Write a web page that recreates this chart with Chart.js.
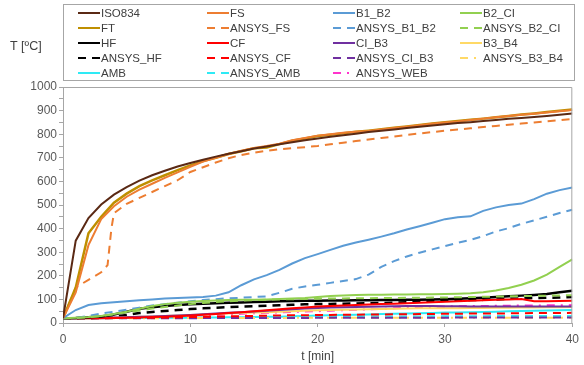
<!DOCTYPE html>
<html>
<head>
<meta charset="utf-8">
<script src="https://cdn.jsdelivr.net/npm/chart.js@4/dist/chart.umd.min.js"></script>
<style>
html, body { margin: 0; padding: 0; background: #fff; }
#wrap { width: 584px; height: 365px; }
</style>
</head>
<body>
<div id="wrap"><canvas id="tempChart" width="584" height="365"></canvas></div>
<script>
// Temps (min)
const minutes = [0, 1, 2, 3, 4, 5, 6, 7, 8, 9, 10, 11, 12, 13, 14, 15, 16, 17, 18, 19, 20,
    21, 22, 23, 24, 25, 26, 27, 28, 29, 30, 31, 32, 33, 34, 35, 36, 37, 38, 39, 40];
const ansysFsMinutes = [0, 1, 2, 3, 3.5, 3.8, 4, 5, 6, 7, 8, 9, 10, 11, 12, 13, 14, 15, 16, 17, 18, 19, 20,
    21, 22, 23, 24, 25, 26, 27, 28, 29, 30, 31, 32, 33, 34, 35, 36, 37, 38, 39, 40];

// Températures (ºC)
const iso834 = [20, 349, 445, 502, 544, 576, 603, 626, 645, 663, 678, 692, 705, 717, 728, 739, 748, 757, 766, 774, 782,
    789, 796, 802, 809, 815, 820, 826, 832, 837, 842, 847, 851, 856, 860, 865, 869, 873, 877, 882, 888];
const fs = [20, 130, 330, 440, 495, 535, 565, 590, 615, 638, 662, 684, 700, 716, 730, 742, 750, 760, 774, 784, 794,
    800, 806, 810, 814, 820, 826, 832, 838, 844, 850, 854, 860, 866, 872, 877, 882, 887, 892, 897, 902];
const b1b2 = [20, 55, 76, 84, 88, 92, 96, 100, 104, 106, 108, 110, 116, 130, 160, 185, 203, 225, 252, 275, 292,
    310, 327, 341, 353, 366, 380, 396, 410, 425, 440, 448, 452, 475, 490, 500, 506, 525, 548, 563, 574];
const b2ci = [20, 22, 25, 30, 38, 48, 60, 72, 80, 86, 90, 93, 95, 97, 98, 99, 100, 102, 104, 106, 110,
    114, 117, 119, 120, 120, 121, 121, 122, 122, 123, 124, 126, 130, 138, 148, 162, 180, 205, 238, 270];
const ft = [20, 150, 380, 450, 510, 548, 580, 604, 626, 648, 668, 686, 700, 716, 728, 740, 744, 758, 772, 782, 792,
    798, 804, 810, 815, 821, 827, 833, 839, 845, 851, 856, 861, 866, 872, 877, 883, 888, 894, 899, 905];
const ansysFs = [20, 150, 183, 215, 245, 400, 465, 505, 530, 555, 580, 605, 640, 660, 680, 698, 712, 722, 730, 736, 741, 745, 750,
    757, 764, 771, 778, 784, 790, 797, 803, 809, 815, 820, 825, 830, 835, 840, 845, 850, 855, 859, 864];
const ansysB1b2 = [20, 22, 30, 40, 48, 56, 65, 74, 80, 86, 92, 97, 101, 105, 107, 110, 113, 128, 145, 155, 162,
    170, 178, 186, 205, 238, 262, 282, 298, 312, 326, 340, 352, 368, 388, 402, 420, 435, 450, 466, 480];
const ansysB2ci = [20, 21, 24, 30, 37, 45, 53, 61, 68, 74, 80, 85, 89, 92, 95, 97, 99, 100, 101, 102, 103,
    104, 104, 105, 105, 106, 106, 107, 107, 108, 108, 109, 110, 111, 112, 113, 114, 115, 116, 117, 118];
const hf = [20, 21, 24, 28, 36, 48, 60, 67, 72, 76, 79, 82, 84, 86, 87, 89, 90, 92, 93, 94, 94,
    95, 95, 96, 96, 97, 97, 98, 99, 100, 101, 103, 105, 107, 110, 113, 116, 119, 123, 130, 137];
const cf = [20, 20, 20, 20, 21, 22, 23, 25, 27, 29, 32, 35, 38, 42, 46, 50, 54, 58, 62, 66, 70,
    72, 74, 76, 78, 80, 82, 84, 86, 88, 90, 92, 94, 96, 98, 100, 102, 92, 92, 93, 94];
const ciB3 = [20, 20, 21, 22, 23, 24, 26, 28, 30, 32, 34, 37, 40, 43, 46, 49, 52, 55, 58, 61, 64,
    66, 67, 68, 69, 70, 71, 72, 72, 72, 71, 71, 70, 70, 70, 70, 70, 70, 70, 70, 70];
const b3b4 = [20, 20, 21, 22, 23, 24, 26, 28, 30, 32, 34, 36, 38, 40, 42, 44, 46, 48, 50, 52, 54,
    55, 56, 57, 58, 59, 60, 61, 62, 62, 63, 63, 64, 64, 65, 65, 66, 66, 67, 67, 68];
const ansysHf = [20, 20, 21, 23, 27, 34, 42, 47, 51, 55, 59, 62, 65, 67, 69, 71, 73, 75, 77, 79, 80,
    81, 82, 83, 84, 85, 86, 88, 90, 92, 94, 96, 97, 98, 100, 102, 104, 106, 107, 108, 110];
const ansysCf = [20, 20, 20, 20, 21, 21, 22, 22, 23, 24, 25, 26, 27, 28, 29, 30, 31, 32, 33, 33, 34,
    34, 35, 35, 36, 36, 37, 37, 38, 38, 39, 39, 40, 40, 40, 41, 41, 42, 42, 42, 43];
const ansysCiB3 = [20, 20, 20, 20, 20, 20, 20, 20, 20, 20, 20, 21, 21, 21, 21, 21, 21, 21, 21, 21, 22,
    22, 22, 22, 22, 22, 22, 22, 22, 22, 22, 23, 23, 23, 23, 23, 23, 23, 23, 23, 23];
const ansysB3b4 = [20, 20, 20, 20, 20, 20, 20, 20, 21, 21, 21, 21, 21, 21, 21, 21, 21, 21, 22, 22, 22,
    22, 22, 22, 22, 22, 22, 22, 22, 22, 22, 22, 22, 22, 22, 22, 22, 22, 22, 22, 22];
const amb = [20, 20, 20, 20, 21, 21, 21, 21, 22, 22, 22, 23, 23, 24, 24, 25, 26, 27, 29, 30, 32,
    33, 34, 35, 36, 38, 39, 40, 41, 42, 44, 45, 46, 47, 48, 50, 51, 52, 53, 54, 55];
const ansysAmb = [20, 20, 20, 21, 21, 21, 22, 22, 22, 23, 23, 23, 24, 24, 24, 25, 25, 25, 26, 26, 26,
    27, 27, 27, 27, 28, 28, 28, 28, 29, 29, 29, 29, 29, 30, 30, 30, 30, 30, 30, 30];
const ansysWeb = [20, 20, 21, 22, 22, 23, 24, 25, 27, 29, 31, 33, 35, 37, 39, 41, 43, 45, 47, 49, 50,
    52, 54, 56, 58, 60, 62, 64, 66, 68, 70, 71, 72, 72, 73, 73, 74, 74, 75, 75, 76];

// Graduations
const xTicks = [0, 10, 20, 30, 40];
const yMax = 1000;

const SOLID = [];
const DASH = [8, 6];
const DASH_DOT = [8, 6, 2, 6];

function toPoints(xs, ys) {
    return ys.map((y, i) => ({ x: xs[i], y: y }));
}

function serie(label, xs, ys, color, dash, width) {
    return {
        label: label,
        data: toPoints(xs, ys),
        borderColor: color,
        backgroundColor: color,
        borderDash: dash,
        borderWidth: width || 2,
        pointRadius: 0,
        tension: 0,
        fill: false
    };
}

// Ordre = ordre de la légende (lignes de 4)
const datasets = [
    serie('ISO834', minutes, iso834, '#5A2914', SOLID),
    serie('FS', minutes, fs, '#ED7D31', SOLID),
    serie('B1_B2', minutes, b1b2, '#5B9BD5', SOLID),
    serie('B2_CI', minutes, b2ci, '#92D050', SOLID),
    serie('FT', minutes, ft, '#BF8F00', SOLID, 2.5),
    serie('ANSYS_FS', ansysFsMinutes, ansysFs, '#ED7D31', DASH),
    serie('ANSYS_B1_B2', minutes, ansysB1b2, '#5B9BD5', DASH),
    serie('ANSYS_B2_CI', minutes, ansysB2ci, '#92D050', DASH),
    serie('HF', minutes, hf, '#000000', SOLID, 2.5),
    serie('CF', minutes, cf, '#FF0000', SOLID),
    serie('CI_B3', minutes, ciB3, '#7030A0', SOLID),
    serie('B3_B4', minutes, b3b4, '#FFD966', SOLID),
    serie('ANSYS_HF', minutes, ansysHf, '#000000', DASH, 2.5),
    serie('ANSYS_CF', minutes, ansysCf, '#FF0000', DASH),
    serie('ANSYS_CI_B3', minutes, ansysCiB3, '#7030A0', DASH),
    serie('ANSYS_B3_B4', minutes, ansysB3b4, '#FFD966', DASH_DOT),
    serie('AMB', minutes, amb, '#2EEAF5', SOLID),
    serie('ANSYS_AMB', minutes, ansysAmb, '#2EEAF5', DASH),
    serie('ANSYS_WEB', minutes, ansysWeb, '#FF33CC', DASH_DOT)
];

// Légende, cadre et titre de l'axe Y dessinés à la main
const legendCols = [78, 207, 333, 460];
const legendRows = [13, 28, 43, 58, 73];

const decorPlugin = {
    id: 'decor',
    afterDraw(chart) {
        const { ctx, chartArea: a } = chart;
        ctx.save();
        // cadre du graphique (haut + droite)
        ctx.strokeStyle = '#A6A6A6';
        ctx.lineWidth = 1;
        ctx.beginPath();
        ctx.moveTo(a.left, a.top + 0.5);
        ctx.lineTo(a.right - 0.5, a.top + 0.5);
        ctx.lineTo(a.right - 0.5, a.bottom);
        ctx.stroke();

        // boîte de légende
        ctx.strokeRect(63.5, 4.5, 511, 76);

        ctx.font = '11.5px "Liberation Sans", Arial, sans-serif';
        ctx.textBaseline = 'middle';
        ctx.textAlign = 'left';
        chart.data.datasets.forEach((ds, i) => {
            const x = legendCols[i % 4];
            const y = legendRows[Math.floor(i / 4)];
            ctx.strokeStyle = ds.borderColor;
            ctx.lineWidth = 2;
            ctx.setLineDash(ds.borderDash);
            ctx.beginPath();
            ctx.moveTo(x, y);
            ctx.lineTo(x + 22, y);
            ctx.stroke();
            ctx.setLineDash([]);
            ctx.fillStyle = '#404040';
            ctx.fillText(ds.label, x + 23, y + 0.5);
        });

        // titre axe Y
        ctx.font = '12.5px "Liberation Sans", Arial, sans-serif';
        ctx.fillStyle = '#404040';
        ctx.fillText('T [ºC]', 10, 47);
        ctx.restore();
    }
};

const ctx = document.getElementById('tempChart').getContext('2d');
const tempChart = new Chart(ctx, {
    type: 'line',
    data: { datasets: datasets },
    plugins: [decorPlugin],
    options: {
        responsive: false,
        animation: false,
        devicePixelRatio: 1,
        layout: { padding: { top: 87, right: 9, left: 0, bottom: 0 } },
        plugins: {
            legend: { display: false },
            tooltip: { enabled: false }
        },
        scales: {
            x: {
                type: 'linear',
                min: 0,
                max: 40,
                afterBuildTicks: (scale) => { scale.ticks = xTicks.map(v => ({ value: v })); },
                afterFit: (scale) => { scale.height = 42; },
                grid: { display: true, drawOnChartArea: false, drawTicks: true, tickLength: 4, color: '#A6A6A6' },
                border: { display: true, color: '#A6A6A6' },
                ticks: { padding: 5, color: '#595959', font: { family: '"Liberation Sans", Arial, sans-serif', size: 12 } },
                title: {
                    display: true,
                    text: 't [min]',
                    color: '#404040',
                    padding: { top: 0, bottom: 1 },
                    font: { family: '"Liberation Sans", Arial, sans-serif', size: 12 }
                }
            },
            y: {
                min: 0,
                max: yMax,
                afterFit: (scale) => { scale.width = 63; },
                grid: { display: true, drawOnChartArea: false, drawTicks: true, tickLength: 4, color: '#A6A6A6' },
                border: { display: true, color: '#A6A6A6' },
                ticks: {
                    stepSize: 50,
                    autoSkip: false,
                    padding: 2,
                    color: '#595959',
                    font: { family: '"Liberation Sans", Arial, sans-serif', size: 12 },
                    callback: (v) => (v % 100 === 0 ? v : '')
                }
            }
        }
    }
});
</script>
</body>
</html>
